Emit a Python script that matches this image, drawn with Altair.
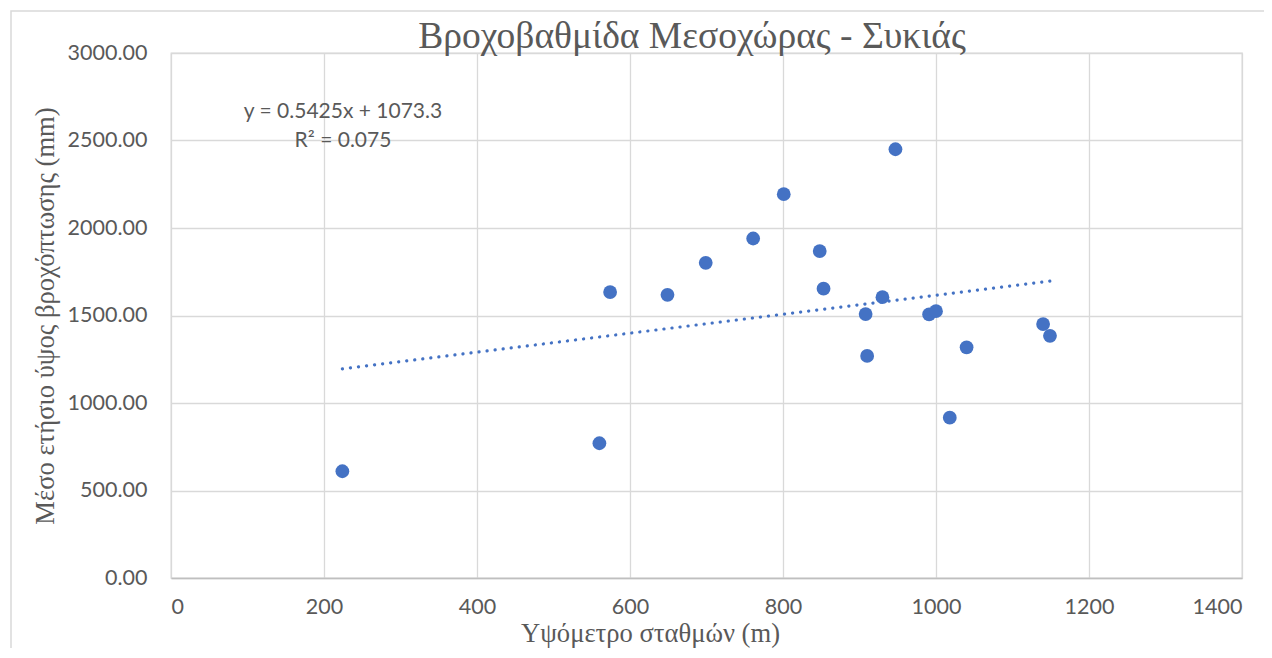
import altair as alt
import pandas as pd

# Station elevation (m) and mean annual rainfall (mm)
elevation = [224, 560, 574, 649, 699, 761, 801, 848, 853, 947, 908, 910, 930, 991, 1000, 1018, 1040, 1140, 1149]
rainfall = [610, 770, 1634, 1618, 1801, 1940, 2193, 1868, 1653, 2450, 1508, 1269, 1605, 1506, 1525, 916, 1318, 1451, 1384]

# Linear trendline as reported on the chart
slope = 0.5425
intercept = 1073.3
eq_line1 = "y = 0.5425x + 1073.3"
eq_line2 = "R² = 0.075"

title_text = "Βροχοβαθμίδα Μεσοχώρας - Συκιάς"
x_title = "Υψόμετρο σταθμών (m)"
y_title = "Μέσο ετήσιο ύψος βροχόπτωσης (mm)"
x_ticks = [0, 200, 400, 600, 800, 1000, 1200, 1400]
y_ticks = [0, 500, 1000, 1500, 2000, 2500, 3000]

df = pd.DataFrame({"elev": elevation, "rain": rainfall})
trend_df = pd.DataFrame({"elev": [min(elevation), max(elevation)]})
trend_df["fit"] = slope * trend_df["elev"] + intercept

W, H = 1071, 525
GREY = "#595959"
BLUE = "#4472C4"

xscale = alt.Scale(domain=[0, 1400], nice=False, zero=True)
yscale = alt.Scale(domain=[0, 3000], nice=False)

xaxis = alt.Axis(values=x_ticks, format="d", title=x_title, grid=True, gridColor="#D9D9D9", gridWidth=1.3,
                 domainColor="#BFBFBF", domainWidth=1.3, ticks=False, labelPadding=18,
                 labelFont="Lato", labelFontSize=21.5, labelColor=GREY,
                 titleFont="Liberation Serif", titleFontSize=26.6, titleFontWeight="normal",
                 titleColor=GREY, titleX=479, titleY=63, titleBaseline="alphabetic")
yaxis = alt.Axis(values=y_ticks, format=".2f", title=y_title, grid=True, gridColor="#D9D9D9",
                 gridWidth=1.3, domain=False, ticks=False, labelPadding=24,
                 labelFont="Lato", labelFontSize=21.5, labelColor=GREY,
                 titleFont="Liberation Serif", titleFontSize=26.6, titleFontWeight="normal",
                 titleColor=GREY, titlePadding=8)

points = alt.Chart(df).mark_circle(size=190, color=BLUE, opacity=1).encode(
    x=alt.X("elev:Q", scale=xscale, axis=xaxis),
    y=alt.Y("rain:Q", scale=yscale, axis=yaxis),
)

trend = alt.Chart(trend_df).mark_line(color=BLUE, strokeWidth=3.2, strokeDash=[0.1, 8],
                                       strokeCap="round").encode(
    x=alt.X("elev:Q", scale=xscale),
    y=alt.Y("fit:Q", scale=yscale),
)

eq1 = alt.Chart(pd.DataFrame({"t": [eq_line1]})).mark_text(
    font="Lato", fontSize=21, color=GREY, align="center", baseline="alphabetic"
).encode(x=alt.value(172), y=alt.value(65), text="t:N")

eq2 = alt.Chart(pd.DataFrame({"t": [eq_line2]})).mark_text(
    font="Lato", fontSize=21, color=GREY, align="center", baseline="alphabetic"
).encode(x=alt.value(172), y=alt.value(94), text="t:N")

title = alt.Chart(pd.DataFrame({"t": [title_text]})).mark_text(
    font="Liberation Serif", fontSize=37.5, color=GREY, align="center", baseline="alphabetic"
).encode(x=alt.value(521), y=alt.value(-5), text="t:N")

border = alt.Chart(pd.DataFrame({"a": [0]})).mark_rect(
    fill=None, stroke="#D9D9D9", strokeWidth=1.5
).encode(x=alt.value(-160), x2=alt.value(1150), y=alt.value(-42), y2=alt.value(640))

chart = alt.layer(border, points, trend, eq1, eq2, title).properties(
    width=W, height=H,
    autosize=alt.AutoSizeParams(type="none"),
    padding={"left": 163, "top": 45, "right": 22, "bottom": 70},
).configure_view(stroke="#D9D9D9", strokeWidth=1.3)

chart.save("out.html", embed_options={"renderer": "svg", "actions": False})
